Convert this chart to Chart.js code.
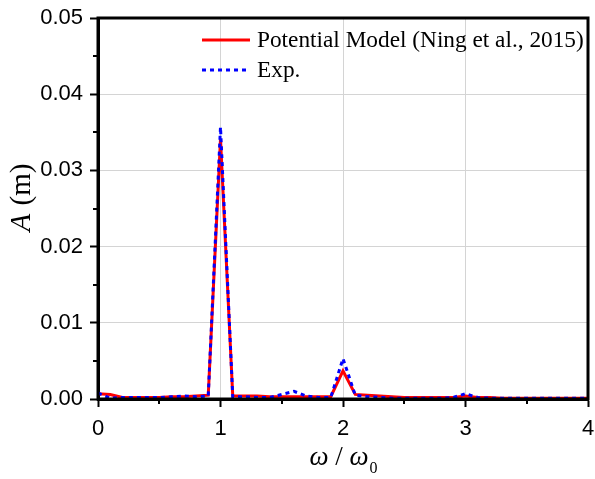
<!DOCTYPE html>
<html><head><meta charset="utf-8">
<script src="https://cdn.jsdelivr.net/npm/chart.js@4/dist/chart.umd.min.js"></script>
<style>html,body{margin:0;padding:0;background:#fff}#wrap{width:595px;height:479px}</style>
</head><body><div id="wrap"><canvas id="c" width="595" height="479"></canvas></div>
<script>
// frequency ratio omega / omega_0
const omegaRatio = [0.0,0.1,0.2,0.3,0.4,0.5,0.6,0.7,0.8,0.9,
  1.0,1.1,1.2,1.3,1.4,1.5,1.6,1.7,1.8,1.9,
  2.0,2.1,2.2,2.3,2.4,2.5,2.6,2.7,2.8,2.9,
  3.0,3.1,3.2,3.3,3.4,3.5,3.6,3.7,3.8,3.9,4.0];
// amplitude A (m) - Potential Model (Ning et al., 2015)
const potentialModel = [0.0007,0.0006,0.0002,0.0002,0.0002,0.0002,0.0003,0.0003,0.0004,0.0005,
  0.0341,0.0004,0.0004,0.0004,0.0003,0.0003,0.0003,0.0003,0.0003,0.0003,
  0.0037,0.0006,0.0005,0.0004,0.0003,0.0002,0.0002,0.0002,0.0002,0.0002,
  0.0004,0.0002,0.0002,0.0001,0.0001,0.0001,0.0001,0.0001,0.0001,0.0001,0.0001];
// amplitude A (m) - Experiment
const experiment = [0.0008,0.0001,0.0002,0.0002,0.0002,0.0002,0.0003,0.0004,0.0003,0.0004,
  0.0357,0.0003,0.0003,0.0002,0.0002,0.0006,0.0010,0.0004,0.0002,0.0002,
  0.0053,0.0005,0.0003,0.0002,0.0001,0.0001,0.0001,0.0001,0.0001,0.0002,
  0.0007,0.0002,0.0001,0.0001,0.0001,0.0001,0.0001,0.0001,0.0001,0.0001,0.0001];
const xTickLabels = ['0','1','2','3','4'];
const yTickLabels = ['0.00','0.01','0.02','0.03','0.04','0.05'];
const seriesNames = ['Potential Model (Ning et al., 2015)','Exp.'];

const GRID = '#d4d4d4';

const decor = {
  id:'decor',
  afterDatasetsDraw(chart){
    const ctx = chart.ctx, a = chart.chartArea;
    const xs = chart.scales.x, ys = chart.scales.y;
    ctx.save();
    // minor ticks
    ctx.strokeStyle = '#000'; ctx.lineWidth = 2;
    ctx.beginPath();
    for (let i = 0; i < xTickLabels.length - 1; i++) {
      const px = Math.round(xs.getPixelForValue(i + 0.5));
      ctx.moveTo(px, a.bottom); ctx.lineTo(px, a.bottom + 5);
    }
    for (let i = 0; i < yTickLabels.length - 1; i++) {
      const py = Math.round(ys.getPixelForValue((i + 0.5) / 100));
      ctx.moveTo(a.left, py); ctx.lineTo(a.left - 5, py);
    }
    ctx.stroke();
    // frame
    ctx.lineWidth = 3;
    ctx.strokeRect(a.left, a.top, a.right - a.left, a.bottom - a.top);
    // legend
    const lx0 = a.left + 104, lx1 = a.left + 152, tx = a.left + 159;
    const ly0 = a.top + 22, ly1 = a.top + 52;
    ctx.lineWidth = 3;
    ctx.strokeStyle = chart.data.datasets[0].borderColor;
    ctx.setLineDash([]);
    ctx.beginPath(); ctx.moveTo(lx0, ly0); ctx.lineTo(lx1, ly0); ctx.stroke();
    ctx.strokeStyle = chart.data.datasets[1].borderColor;
    ctx.setLineDash([4,4]);
    ctx.beginPath(); ctx.moveTo(lx0, ly1); ctx.lineTo(lx1 - 3, ly1); ctx.stroke();
    ctx.setLineDash([]);
    ctx.fillStyle = '#000';
    ctx.font = '23.3px "Liberation Serif"';
    ctx.textBaseline = 'middle'; ctx.textAlign = 'left';
    ctx.fillText(chart.data.datasets[0].label, tx, ly0 + 1);
    ctx.fillText(chart.data.datasets[1].label, tx, ly1 + 1);
    // x title: omega / omega_0
    const base = 465;
    ctx.textBaseline = 'alphabetic';
    const p1 = 'ω', p2 = ' / ', p3 = 'ω';
    ctx.font = 'italic 27px "Liberation Serif"';
    const w1 = ctx.measureText(p1).width;
    ctx.font = '27px "Liberation Serif"';
    const w2 = ctx.measureText(p2).width;
    ctx.font = 'italic 27px "Liberation Serif"';
    const w3 = ctx.measureText(p3).width;
    ctx.font = '16px "Liberation Serif"';
    const w4 = ctx.measureText('0').width;
    const cx = (a.left + a.right) / 2;
    let x = cx - (w1 + w2 + w3 + w4) / 2;
    ctx.font = 'italic 27px "Liberation Serif"'; ctx.fillText(p1, x, base); x += w1;
    ctx.font = '27px "Liberation Serif"'; ctx.fillText(p2, x, base); x += w2;
    ctx.font = 'italic 27px "Liberation Serif"'; ctx.fillText(p3, x, base); x += w3;
    ctx.font = '16px "Liberation Serif"'; ctx.fillText('0', x + 1, base + 8);
    // y title: A (m)
    ctx.translate(30, 198);
    ctx.rotate(-Math.PI / 2);
    ctx.font = 'italic 29px "Liberation Serif"';
    const wa = ctx.measureText('A').width;
    ctx.font = '29px "Liberation Serif"';
    const wm = ctx.measureText(' (m)').width;
    let y0 = -(wa + wm) / 2;
    ctx.font = 'italic 29px "Liberation Serif"'; ctx.fillText('A', y0, 0);
    ctx.font = '29px "Liberation Serif"'; ctx.fillText(' (m)', y0 + wa + 1, 0);
    ctx.restore();
  }
};

new Chart(document.getElementById('c'), {
  type: 'line',
  data: {
    datasets: [
      { label: seriesNames[0], data: omegaRatio.map((v,i)=>({x:v, y:potentialModel[i]})), order: 2,
        borderColor: '#ff0000', borderWidth: 3, pointRadius: 0, tension: 0, fill: false },
      { label: seriesNames[1], data: omegaRatio.map((v,i)=>({x:v, y:experiment[i]})), order: 1,
        borderColor: '#0000ff', borderWidth: 3, borderDash: [4,4], pointRadius: 0, tension: 0, fill: false }
    ]
  },
  options: {
    responsive: false, animation: false, devicePixelRatio: 1,
    layout: { padding: { top: 18, right: 7, left: 0, bottom: 0 } },
    plugins: { legend: { display: false }, tooltip: { enabled: false } },
    scales: {
      x: {
        type: 'linear', min: 0, max: 4,
        afterFit(s){ s.height = 80; s.paddingLeft = 0; s.paddingRight = 0; },
        ticks: { stepSize: 1, color: '#000', padding: 9, maxRotation: 0,
          font: { family: 'Liberation Sans', size: 22 },
          callback: (v) => xTickLabels[Math.round(v)] },
        grid: { color: (c) => (c.tick && (c.tick.value === 0 || c.tick.value === 4)) ? 'rgba(0,0,0,0)' : GRID,
          lineWidth: 1, tickColor: '#000', tickLength: 8, tickWidth: 2 },
        border: { display: true, color: '#000', width: 3 }
      },
      y: {
        min: 0, max: 0.05,
        afterFit(s){ s.width = 98; s.paddingTop = 0; s.paddingBottom = 0; },
        ticks: { stepSize: 0.01, color: '#000', padding: 7,
          font: { family: 'Liberation Sans', size: 22 },
          callback: (v) => yTickLabels[Math.round(v * 100)] },
        grid: { color: (c) => (c.tick && (Math.round(c.tick.value*100) === 0 || Math.round(c.tick.value*100) === 5)) ? 'rgba(0,0,0,0)' : GRID,
          lineWidth: 1, tickColor: '#000', tickLength: 8, tickWidth: 2 },
        border: { display: true, color: '#000', width: 3 }
      }
    }
  },
  plugins: [decor]
});
</script></body></html>
